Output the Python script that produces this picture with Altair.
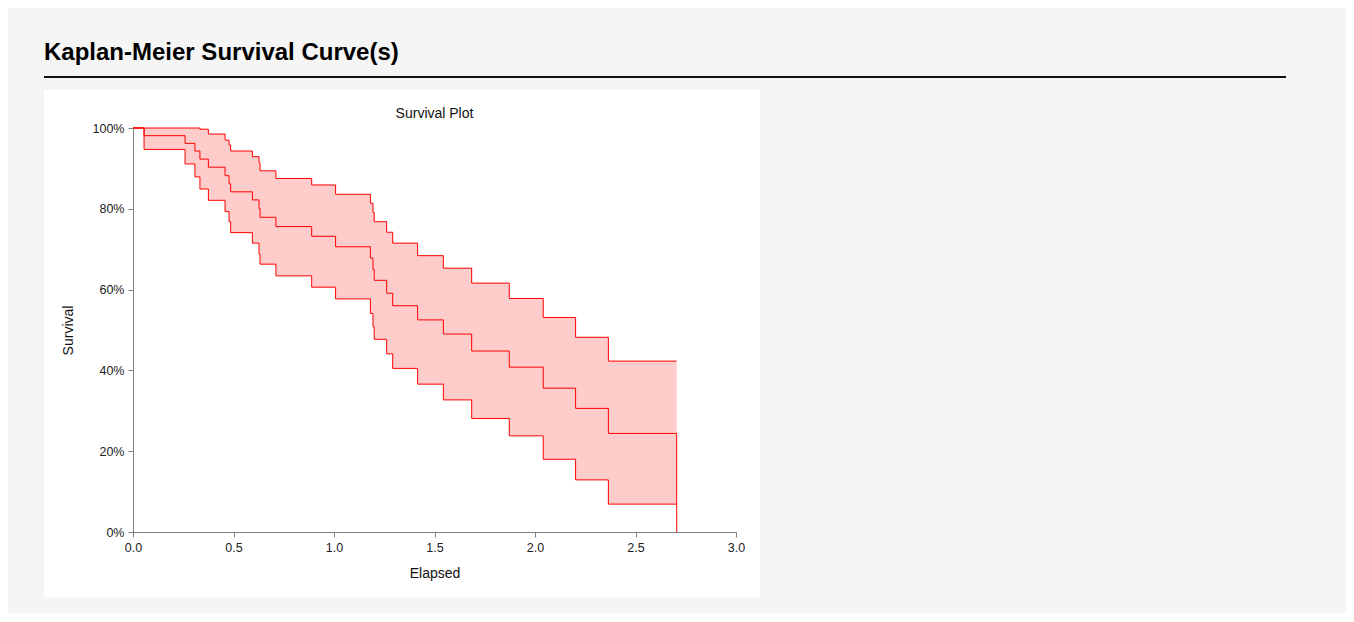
import altair as alt
import pandas as pd

# ---- data ----
times = [0.000, 0.055, 0.259, 0.308, 0.333, 0.375, 0.458, 0.478, 0.486, 0.594,
         0.627, 0.632, 0.711, 0.889, 1.008, 1.181, 1.194, 1.200, 1.262, 1.292,
         1.416, 1.544, 1.685, 1.872, 2.041, 2.202, 2.365]
end_time = 2.705
survival = [100, 98.1, 96.2, 94.3, 92.3, 90.3, 88.2, 86.2, 84.2, 82.2,
            80.1, 77.9, 75.6, 73.2, 70.6, 67.8, 65.0, 62.3, 59.1, 56.0,
            52.5, 49.0, 44.8, 40.8, 35.6, 30.6, 24.4]
upper = [100, 100, 100, 100, 99.7, 98.5, 97.0, 95.8, 94.3, 92.9,
         91.3, 89.4, 87.5, 85.9, 83.6, 81.4, 79.1, 76.8, 74.2, 71.5,
         68.4, 65.3, 61.6, 57.8, 53.1, 48.2, 42.3]
lower = [100, 94.7, 91.1, 87.9, 84.9, 82.1, 79.3, 76.8, 74.1, 71.5,
         68.8, 66.3, 63.4, 60.6, 57.7, 54.1, 50.8, 47.7, 44.1, 40.5,
         36.6, 32.7, 28.1, 23.8, 18.0, 12.9, 6.9]
x_ticks = [0.0, 0.5, 1.0, 1.5, 2.0, 2.5, 3.0]
y_ticks = [0, 20, 40, 60, 80, 100]

FONT = "Liberation Sans"
RED = "#ff0000"
PINK = "#ffcccc"

band_df = pd.DataFrame({
    "t": times + [end_time],
    "upper": upper + [upper[-1]],
    "lower": lower + [lower[-1]],
})
line_df = pd.concat([
    pd.DataFrame({"t": times + [end_time], "v": upper + [upper[-1]], "s": "upper"}),
    pd.DataFrame({"t": times + [end_time], "v": survival + [0], "s": "survival"}),
    pd.DataFrame({"t": times + [end_time], "v": lower + [lower[-1]], "s": "lower"}),
])

one = pd.DataFrame({"k": [0]})

x_axis = alt.Axis(values=x_ticks, format=".1f", grid=False, labelFlush=False,
                  domainColor="#808080", tickColor="#808080", tickSize=5,
                  labelFont=FONT, labelFontSize=12.5, labelColor="#222",
                  labelPadding=4, title="Elapsed", titleFont=FONT,
                  titleFontSize=14, titleFontWeight="normal", titleColor="#111",
                  titleX=301.5, titleY=45, titleBaseline="alphabetic",
                  titleAlign="center", zindex=1)
y_axis = alt.Axis(values=y_ticks, labelExpr="datum.value + '%'", grid=False,
                  domainColor="#808080", tickColor="#808080", tickSize=5,
                  labelFont=FONT, labelFontSize=12.5, labelColor="#222",
                  labelPadding=4, title="Survival", titleFont=FONT,
                  titleFontSize=14, titleFontWeight="normal", titleColor="#111",
                  titleX=-61, titleY=202, titleAngle=270,
                  titleBaseline="alphabetic", titleAlign="center", zindex=1)

xs = alt.Scale(domain=[0, 3], nice=False, zero=False)
ys = alt.Scale(domain=[0, 100], nice=False)

panel = alt.Chart(one).mark_rect(color="white").encode(
    x=alt.value(-89), x2=alt.value(627), y=alt.value(-38), y2=alt.value(469))
rule = alt.Chart(one).mark_rule(color="#111", strokeWidth=2).encode(
    x=alt.value(-89), x2=alt.value(1153), y=alt.value(-51))
main_title = alt.Chart(one).mark_text(
    text="Kaplan-Meier Survival Curve(s)", align="left", baseline="alphabetic",
    font=FONT, fontSize=24, fontWeight="bold", color="#000").encode(
    x=alt.value(-89), y=alt.value(-68))
plot_title = alt.Chart(one).mark_text(
    text="Survival Plot", align="center", baseline="alphabetic",
    font=FONT, fontSize=14, color="#111").encode(
    x=alt.value(301.5), y=alt.value(-10))

band = alt.Chart(band_df).mark_area(interpolate="step-after", color=PINK,
                                    opacity=1).encode(
    x=alt.X("t:Q", scale=xs, axis=x_axis),
    y=alt.Y("upper:Q", scale=ys, axis=y_axis),
    y2="lower:Q",
)
lines = alt.Chart(line_df).mark_line(interpolate="step-after", color=RED,
                                     strokeWidth=1).encode(
    x=alt.X("t:Q", scale=xs),
    y=alt.Y("v:Q", scale=ys),
    detail="s:N",
)

chart = alt.layer(panel, rule, main_title, plot_title, band, lines).properties(
    width=603, height=404,
    background="#f5f5f5",
    padding={"left": 125, "top": 120, "right": 610, "bottom": 81},
    autosize=alt.AutoSizeParams(type="none"),
).configure_view(strokeWidth=0)

chart.save("out.html", embed_options={"renderer": "svg", "actions": False})
